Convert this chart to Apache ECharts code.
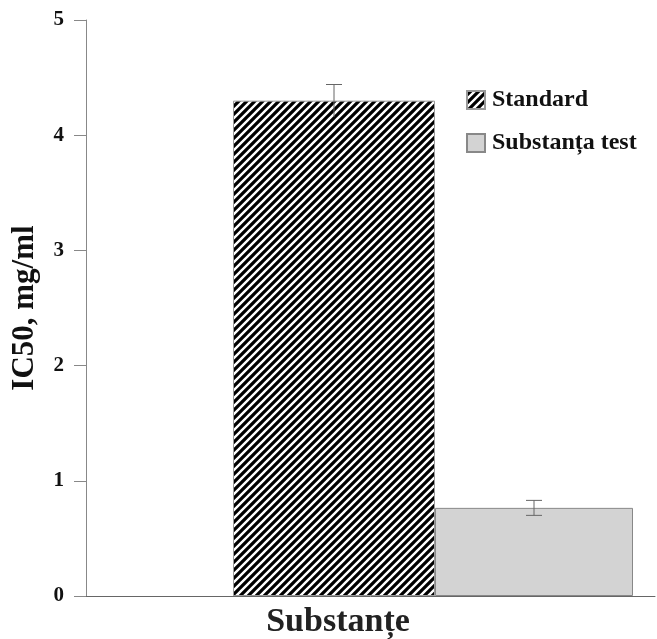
<!DOCTYPE html>
<html>
<head>
<meta charset="utf-8">
<script src="https://cdn.jsdelivr.net/npm/echarts@6/dist/echarts.min.js"></script>
<style>
html,body{margin:0;padding:0;background:#fff;}
#chart{width:657px;height:639px;}
</style>
</head>
<body>
<div id="chart"></div>
<script>
// ---- data ----
const categories = ['Substanțe'];
const seriesNames = ['Standard', 'Substanța test'];
const standardValues = [4.30];
const testValues = [0.765];
const standardErrors = [0.14];
const testErrors = [0.065];
const yTickLabels = ['0', '1', '2', '3', '4', '5'];

// ---- styles ----
const FONT = 'Liberation Serif';
const BAR_W = [125, 202, 198]; // placeholder, Standard, Substanța test

function hatch() {
  const s = 8;
  const c = document.createElement('canvas');
  c.width = s; c.height = s;
  const g = c.getContext('2d');
  g.fillStyle = '#000';
  g.fillRect(0, 0, s, s);
  g.strokeStyle = '#fff';
  g.lineWidth = 2.4;
  g.beginPath();
  g.moveTo(-1, s + 1); g.lineTo(s + 1, -1);
  g.moveTo(-2, 2); g.lineTo(2, -2);
  g.moveTo(s - 2, s + 2); g.lineTo(s + 2, s - 2);
  g.stroke();
  return c;
}
const hatchPattern = { image: hatch(), repeat: 'repeat' };

function barCenterOffset(i) {
  const total = BAR_W.reduce((a, b) => a + b, 0);
  let x = -total / 2;
  for (let k = 0; k < i; k++) x += BAR_W[k];
  return x + BAR_W[i] / 2;
}

function errorRenderer(barIndex, bottomCap) {
  return function (params, api) {
    const cat = api.value(0), v = api.value(1), e = api.value(2);
    const top = api.coord([cat, v + e]);
    const bot = api.coord([cat, v - e]);
    const x = top[0] + barCenterOffset(barIndex);
    const cap = 8;
    const st = { stroke: '#666', lineWidth: 1 };
    const children = [
      { type: 'line', shape: { x1: x, y1: top[1], x2: x, y2: bot[1] }, style: st },
      { type: 'line', shape: { x1: x - cap, y1: top[1], x2: x + cap, y2: top[1] }, style: st }
    ];
    if (bottomCap) children.push({ type: 'line', shape: { x1: x - cap, y1: bot[1], x2: x + cap, y2: bot[1] }, style: st });
    return { type: 'group', children };
  };
}

const chart = echarts.init(document.getElementById('chart'), null, { renderer: 'canvas' });
chart.setOption({
  animation: false,
  backgroundColor: '#fff',
  textStyle: { fontFamily: FONT },
  grid: { left: 86, right: 2, top: 20, bottom: 41, containLabel: false },
  legend: {
    data: seriesNames,
    orient: 'vertical',
    left: 461, top: 83,
    itemWidth: 18, itemHeight: 18, itemGap: 19,
    icon: 'rect',
    textStyle: { fontFamily: FONT, fontWeight: 'bold', fontSize: 24, color: '#111', padding: [0, 0, 0, 2] }
  },
  xAxis: {
    type: 'category',
    data: categories,
    axisLine: { lineStyle: { color: '#666', width: 1 } },
    axisTick: { show: false },
    axisLabel: {
      fontFamily: FONT, fontWeight: 'bold', fontSize: 34, color: '#222',
      margin: 9, padding: [0, 65, 0, 0]
    }
  },
  yAxis: {
    type: 'value',
    min: 0, max: 5, interval: 1,
    name: 'IC50, mg/ml',
    nameLocation: 'middle',
    nameGap: 46,
    nameTextStyle: { fontFamily: FONT, fontWeight: 'bold', fontSize: 31, color: '#111' },
    axisLine: { show: true, lineStyle: { color: '#888', width: 1 } },
    axisTick: { show: true, length: 12, lineStyle: { color: '#888' } },
    splitLine: { show: false },
    axisLabel: {
      fontFamily: FONT, fontWeight: 'bold', fontSize: 21, color: '#111', margin: 22,
      formatter: (v) => yTickLabels[Math.round(v)]
    }
  },
  series: [
    {
      name: '_gap', type: 'bar', data: [], barWidth: BAR_W[0], barGap: '0%', silent: true
    },
    {
      name: seriesNames[0], type: 'bar', data: standardValues, barWidth: BAR_W[1], barGap: '0%',
      itemStyle: { color: hatchPattern, borderColor: '#999', borderWidth: 1 }
    },
    {
      name: seriesNames[1], type: 'bar', data: testValues, barWidth: BAR_W[2], barGap: '0%',
      itemStyle: { color: '#d3d3d3', borderColor: '#888', borderWidth: 1 }
    },
    {
      name: 'errStandard', type: 'custom', z: 5,
      data: standardValues.map((v, i) => [i, v, standardErrors[i]]),
      renderItem: errorRenderer(1, false)
    },
    {
      name: 'errTest', type: 'custom', z: 5,
      data: testValues.map((v, i) => [i, v, testErrors[i]]),
      renderItem: errorRenderer(2, true)
    }
  ]
});
</script>
</body>
</html>
